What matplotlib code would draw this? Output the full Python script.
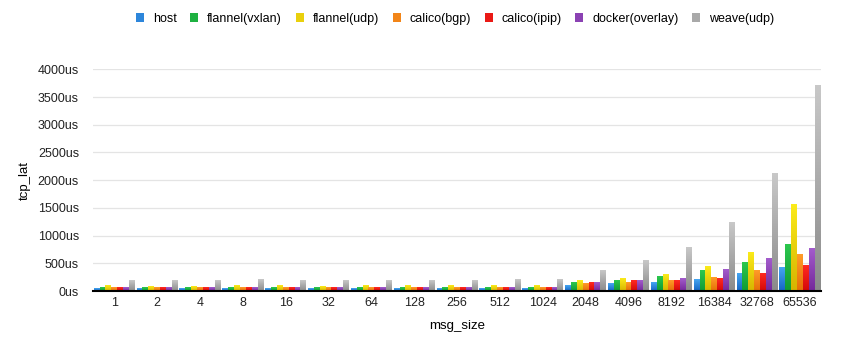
import matplotlib.pyplot as plt
import numpy as np
from matplotlib.colors import to_rgb

plt.rcParams['font.family'] = ['Liberation Sans', 'DejaVu Sans']

# msg sizes and tcp latency (us) per network backend
msg_size = ['1', '2', '4', '8', '16', '32', '64', '128', '256', '512',
            '1024', '2048', '4096', '8192', '16384', '32768', '65536']
host = [54, 54, 54, 54, 54, 54, 54, 54, 54, 54, 54, 108, 127, 162, 199, 307, 433]
flannel_vxlan = [72, 72, 72, 72, 72, 72, 72, 72, 72, 72, 72, 145, 181, 253, 367, 511, 848]
flannel_udp = [108, 90, 90, 108, 108, 90, 108, 108, 108, 108, 108, 181, 217, 289, 451, 692, 1552]
calico_bgp = [72, 72, 72, 72, 72, 72, 72, 72, 72, 72, 72, 127, 145, 187, 235, 367, 650]
calico_ipip = [72, 72, 72, 72, 72, 72, 72, 72, 72, 72, 72, 145, 181, 187, 217, 307, 469]
docker_overlay = [72, 72, 72, 72, 72, 72, 72, 72, 72, 72, 72, 145, 181, 217, 379, 578, 758]
weave_udp = [181, 181, 181, 199, 181, 181, 181, 181, 181, 199, 199, 361, 542, 776, 1245, 2112, 3700]

names = ['host', 'flannel(vxlan)', 'flannel(udp)', 'calico(bgp)',
         'calico(ipip)', 'docker(overlay)', 'weave(udp)']
series = [host, flannel_vxlan, flannel_udp, calico_bgp, calico_ipip, docker_overlay, weave_udp]
# (top colour, bottom colour) for the bar gradients
grads = [('#45a6f2', '#1565c4'), ('#2cc84e', '#109a34'), ('#fbeb1a', '#d6b400'),
         ('#ff9c2a', '#e56e06'), ('#ff2a22', '#d40808'), ('#a35ccc', '#74289a'),
         ('#c8c8c8', '#8a8a8a')]

fig = plt.figure(figsize=(8.52, 3.45), dpi=100)
ax = fig.add_axes([0.109, 0.1565, 0.855, 0.6425])

x = np.arange(len(msg_size))
w = 0.137
for i, (name, vals) in enumerate(zip(names, series)):
    top, bot = grads[i]
    mid = tuple((np.array(to_rgb(top)) + np.array(to_rgb(bot))) / 2)
    bars = ax.bar(x + (i - 3) * w, vals, width=w, color=mid, label=name, zorder=2)
    grad = np.linspace(0, 1, 64)[:, None, None]
    img = (1 - grad) * np.array(to_rgb(top)) + grad * np.array(to_rgb(bot))
    for p in bars.patches:
        ax.imshow(img, extent=[p.get_x(), p.get_x() + p.get_width(), 0, p.get_height()],
                  aspect='auto', origin='upper', zorder=3, interpolation='bilinear')

ax.set_xlim(-0.5, len(msg_size) - 0.5)
ax.set_ylim(0, 4000)
ax.set_yticks(np.arange(0, 4001, 500))
ax.set_yticklabels([f'{v}us' for v in range(0, 4001, 500)])
ax.set_xticks(x)
ax.set_xticklabels(msg_size)
ax.tick_params(axis='both', length=0, labelsize=9, colors='#222222')
ax.tick_params(axis='y', pad=10)
ax.tick_params(axis='x', pad=4)
ax.grid(axis='y', color='#e4e4e4', linewidth=0.9, zorder=0)
for s in ['top', 'right', 'left']:
    ax.spines[s].set_visible(False)
ax.spines['bottom'].set_color('black')
ax.spines['bottom'].set_linewidth(1.5)
ax.spines['bottom'].set_zorder(5)

ax.set_xlabel('msg_size', fontsize=9.5, labelpad=8)
ax.set_ylabel('tcp_lat', fontsize=9.5)
ax.yaxis.set_label_coords(-0.085, 0.5)

leg = fig.legend(loc='upper center', bbox_to_anchor=(0.534, 0.995), ncol=7, frameon=False,
                 fontsize=9, handlelength=0.65, handleheight=0.65, handletextpad=0.7,
                 columnspacing=1.1)

fig.savefig('out.png', dpi=100)
